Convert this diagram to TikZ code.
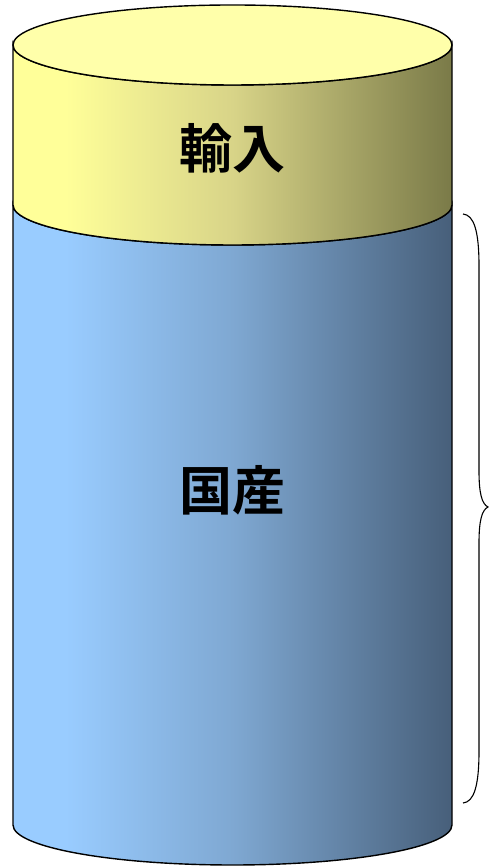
\documentclass[tikz,border=0pt]{standalone}
\usepackage{fontspec}
\newfontfamily\jp[BoldFont={Noto Sans CJK JP Bold}]{Noto Sans CJK JP}
\definecolor{yl}{HTML}{FFFF99}
\definecolor{ym}{HTML}{D8D488}
\definecolor{yr}{HTML}{7A7A48}
\definecolor{bl}{HTML}{99CCFF}
\definecolor{bm}{HTML}{7FA8D2}
\definecolor{br}{HTML}{475F7A}
\definecolor{ytop}{HTML}{FFFFAA}
\pgfdeclarehorizontalshading{yelshade}{100bp}{color(0bp)=(yl); color(31bp)=(yl); color(50bp)=(ym); color(75bp)=(yr); color(100bp)=(yr)}
\pgfdeclarehorizontalshading{blushade}{100bp}{color(0bp)=(bl); color(31bp)=(bl); color(50bp)=(bm); color(75bp)=(br); color(100bp)=(br)}
\begin{document}
\begin{tikzpicture}[x=1pt,y=1pt,
  edge/.style={draw=black,line width=1.4pt},
  label/.style={font=\jp\bfseries\fontsize{53}{53}\selectfont,inner sep=0pt}]
\useasboundingbox (0,0) rectangle (489,866);
% blue body
\path[edge,shading=blushade] (13,661) -- (13,41) arc[start angle=180,end angle=360,x radius=219.5,y radius=40] -- (452,661) arc[start angle=0,end angle=-180,x radius=219.5,y radius=40] -- cycle;
% yellow body
\path[edge,shading=yelshade] (13,821) -- (13,661) arc[start angle=180,end angle=360,x radius=219.5,y radius=40] -- (452,821) arc[start angle=0,end angle=-180,x radius=219.5,y radius=40] -- cycle;
% top ellipse
\path[edge,fill=ytop] (232.5,821) ellipse[x radius=219.5,y radius=40];
\node[label] (imp) at (232.5,718) {輸入};
\node[label] (dom) at (232.5,376) {国産};
% brace
\coordinate (btop) at (463,652);
\coordinate (btip) at (488,359);
\coordinate (bbot) at (463,63);
\draw[line width=1.1pt] (btop) .. controls (474,651) and (479,635) .. (479,600) -- (479,395) .. controls (479,372) and (482,362) .. (btip)
  .. controls (482,356) and (479,346) .. (479,323) -- (479,115) .. controls (479,80) and (474,64) .. (bbot);
\end{tikzpicture}
\end{document}
